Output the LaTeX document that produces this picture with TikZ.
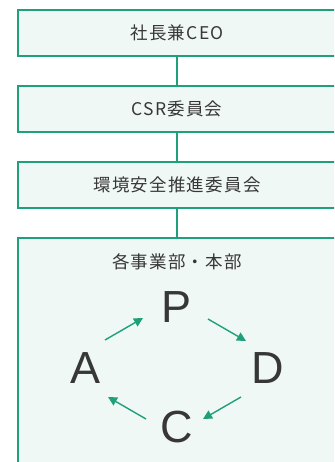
\documentclass[tikz,border=0pt]{standalone}
\usepackage{fontspec}
\setmainfont{Noto Sans CJK JP}
\newfontfamily\jpfont[LetterSpace=7]{Noto Sans CJK JP}
\newfontfamily\bigfont{Liberation Sans}
\usetikzlibrary{arrows.meta}
\definecolor{brd}{RGB}{30,160,122}
\definecolor{bfill}{RGB}{240,248,245}
\definecolor{txt}{RGB}{55,55,55}
\tikzset{
  orgbox/.style={draw=brd, fill=bfill, line width=1.2pt},
  lbl/.style={text=txt, font=\jpfont\fontsize{17.5}{20}\selectfont, inner sep=0pt},
  pdca/.style={text=txt, font=\bigfont\fontsize{45}{50}\selectfont, inner sep=0pt},
  link/.style={draw=brd, line width=1.2pt},
  cyc/.style={draw=brd, line width=1.4pt, -{Triangle[length=9pt,width=9pt]}}
}
\begin{document}
\begin{tikzpicture}[x=1pt,y=1pt]
\useasboundingbox (0,0) rectangle (334,462);
\begin{scope}
\clip (0,0) rectangle (334,462);
\draw[orgbox] (18,462-10) rectangle (336,462-56);
\draw[orgbox] (18,462-86) rectangle (336,462-132);
\draw[orgbox] (18,462-162) rectangle (336,462-208);
\draw[orgbox] (18,462-238) rectangle (336,-5);
\end{scope}
\node[lbl] (ceo) at (177,462-33) {社長兼CEO};
\node[lbl] (csr) at (177,462-109) {CSR委員会};
\node[lbl] (env) at (177,462-185) {環境安全推進委員会};
\node[lbl] (div) at (177,462-262) {各事業部・本部};
\coordinate (b1) at (177,462-56);
\coordinate (t2) at (177,462-86);
\coordinate (b2) at (177,462-132);
\coordinate (t3) at (177,462-162);
\coordinate (b3) at (177,462-208);
\coordinate (t4) at (177,462-238);
\draw[link] (b1) -- (t2);
\draw[link] (b2) -- (t3);
\draw[link] (b3) -- (t4);
\node[pdca] (P) at (177,462-307) {P};
\node[pdca] (A) at (86,462-368) {A};
\node[pdca] (D) at (268,462-368) {D};
\node[pdca] (C) at (177,462-427) {C};
\coordinate (ap1) at (105,462-340);
\coordinate (ap2) at (143,462-318);
\coordinate (pd1) at (208,462-319);
\coordinate (pd2) at (246,462-341);
\coordinate (dc1) at (241,462-397);
\coordinate (dc2) at (203,462-419);
\coordinate (ca1) at (146,462-419);
\coordinate (ca2) at (108,462-397);
\draw[cyc] (ap1) -- (ap2);
\draw[cyc] (pd1) -- (pd2);
\draw[cyc] (dc1) -- (dc2);
\draw[cyc] (ca1) -- (ca2);
\end{tikzpicture}
\end{document}
